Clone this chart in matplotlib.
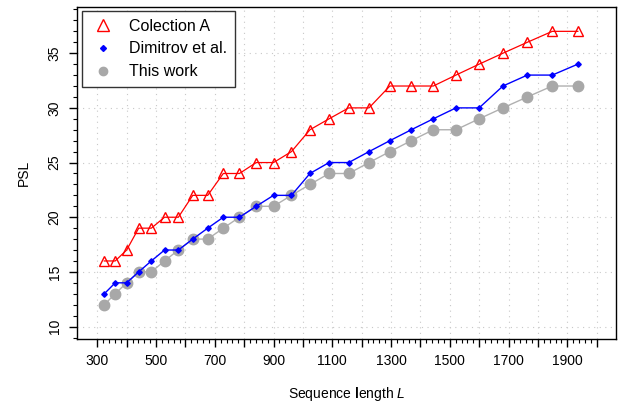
import matplotlib.pyplot as plt
from matplotlib.ticker import MultipleLocator, FixedLocator

plt.rcParams['font.family'] = ['Liberation Sans', 'DejaVu Sans']
plt.rcParams['mathtext.fontset'] = 'custom'
plt.rcParams['mathtext.rm'] = 'Liberation Sans'
plt.rcParams['mathtext.it'] = 'Liberation Sans:italic'
plt.rcParams['mathtext.bf'] = 'Liberation Sans:bold'

# sequence lengths
seq_len = [324, 361, 400, 441, 484, 529, 576, 625, 676, 729, 784, 841, 900, 961,
           1024, 1089, 1156, 1225, 1296, 1369, 1444, 1521, 1600, 1681, 1764, 1849, 1936]
colection_a = [16, 16, 17, 19, 19, 20, 20, 22, 22, 24, 24, 25, 25, 26,
               28, 29, 30, 30, 32, 32, 32, 33, 34, 35, 36, 37, 37]
dimitrov = [13, 14, 14, 15, 16, 17, 17, 18, 19, 20, 20, 21, 22, 22,
            24, 25, 25, 26, 27, 28, 29, 30, 30, 32, 33, 33, 34]
this_work = [12, 13, 14, 15, 15, 16, 17, 18, 18, 19, 20, 21, 21, 22,
             23, 24, 24, 25, 26, 27, 28, 28, 29, 30, 31, 32, 32]

x_labels = [300, 500, 700, 900, 1100, 1300, 1500, 1700, 1900]

fig = plt.figure(figsize=(6.21, 4.03), dpi=100)
ax = fig.add_axes([0.124, 0.159, 0.868, 0.824])

# grid
for gx in range(300, 2001, 100):
    ax.axvline(gx, color='#c8c8c8', linestyle=(0, (1, 4)), linewidth=0.8, zorder=0)
for gy in range(10, 36, 5):
    ax.axhline(gy, color='#c8c8c8', linestyle=(0, (1, 4)), linewidth=0.8, zorder=0)

ax.plot(seq_len, this_work, color='#b0b0b0', linewidth=1.0, marker='o',
        markersize=7.5, markerfacecolor='#a8a8a8', markeredgecolor='#a8a8a8',
        label='This work', zorder=2)
ax.plot(seq_len, dimitrov, color='blue', linewidth=1.0, marker='D',
        markersize=2.8, markerfacecolor='blue', markeredgecolor='blue',
        label='Dimitrov et al.', zorder=3)
ax.plot(seq_len, colection_a, color='red', linewidth=0.9, marker='^',
        markersize=6.5, markerfacecolor='none', markeredgecolor='red',
        markeredgewidth=1.0, label='Colection A', zorder=4)

ax.set_xlim(231, 2066)
ax.set_ylim(8.87, 39.24)

ax.set_xticks(list(range(300, 2001, 100)))
ax.set_xticklabels([str(v) if v in x_labels else '' for v in range(300, 2001, 100)])
ax.xaxis.set_minor_locator(FixedLocator([v for v in range(300, 2001, 20) if v % 100 != 0]))

ax.set_yticks([10, 15, 20, 25, 30, 35])
ax.yaxis.set_minor_locator(MultipleLocator(1))
for lab in ax.get_yticklabels():
    lab.set_rotation(90)
    lab.set_va('center')

ax.tick_params(axis='both', which='major', direction='out', length=6, width=1.0,
               labelsize=10, pad=5)
ax.tick_params(axis='both', which='minor', direction='out', length=3, width=0.8)
for s in ax.spines.values():
    s.set_linewidth(1.0)

ax.set_xlabel(r'Sequence $\mathbf{l}$ength $L$', fontsize=10, labelpad=12)
ax.set_ylabel('PSL', fontsize=10, labelpad=12)

h, l = ax.get_legend_handles_labels()
leg = ax.legend(h[::-1], l[::-1], loc='upper left', fontsize=11.5, frameon=True,
                fancybox=False, edgecolor='#333333', framealpha=1,
                borderpad=0.5, handlelength=1.6, handletextpad=0.85,
                labelspacing=0.48, borderaxespad=0,
                bbox_to_anchor=(0.009, 0.988))
leg_sizes = [8, 3, 6]
for line, ms in zip(leg.get_lines(), leg_sizes):
    line.set_linestyle('none')
    line.set_markersize(ms)
leg.get_frame().set_linewidth(1.0)

fig.savefig('out.png', dpi=100)
